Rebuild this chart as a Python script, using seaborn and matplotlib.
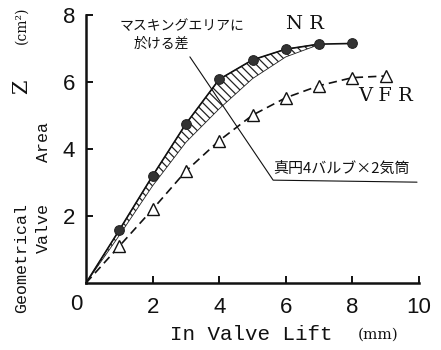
import matplotlib
matplotlib.use("Agg")
import matplotlib.pyplot as plt
import seaborn as sns
import numpy as np
import pandas as pd

# ---- data ----
lift_nr = [0, 1, 2, 3, 4, 5, 6, 7, 8]
area_nr = [0, 1.58, 3.2, 4.75, 6.08, 6.66, 6.98, 7.13, 7.15]
lift_vfr = [0, 1, 2, 3, 4, 5, 6, 7, 8, 9]
area_vfr = [0, 1.1, 2.2, 3.34, 4.25, 5.01, 5.53, 5.89, 6.13, 6.18]
lift_mask = [0, 1, 2, 3, 4, 5, 6, 6.9]
area_mask_low = [0, 1.42, 2.9, 4.2, 5.2, 6.1, 6.75, 7.08]
area_mask_high = [0, 1.58, 3.2, 4.75, 6.08, 6.66, 6.98, 7.12]
x_ticks = [2, 4, 6, 8, 10]
y_ticks = [2, 4, 6, 8]

sns.set_style("ticks")
plt.rcParams["font.family"] = ["DejaVu Sans"]
plt.rcParams["hatch.linewidth"] = 0.9

fig = plt.figure(figsize=(4.41, 3.5), dpi=100)
ax = fig.add_axes([86/441, 1-283/350, (419-86)/441, (283-15)/350])

# hatched masking difference
ax.fill_between(lift_mask, area_mask_low, area_mask_high, facecolor="none",
                edgecolor="#222222", hatch="\\\\\\\\", linewidth=0.6)

df_nr = pd.DataFrame({"lift": lift_nr, "area": area_nr})
df_vfr = pd.DataFrame({"lift": lift_vfr, "area": area_vfr})

sns.lineplot(data=df_nr, x="lift", y="area", ax=ax, color="#111111", lw=1.2,
             marker="o", markersize=7, markerfacecolor="#333333",
             markeredgecolor="#222222", markevery=list(range(1, len(lift_nr))),
             clip_on=False)
sns.lineplot(data=df_vfr, x="lift", y="area", ax=ax, color="#111111", lw=1.2,
             linestyle=(0, (5, 3)), marker="^", markersize=8,
             markerfacecolor="white", markeredgecolor="#111111",
             markeredgewidth=1.0, markevery=list(range(1, len(lift_vfr))),
             clip_on=False)

ax.set_xlim(0, 10)
ax.set_ylim(0, 8)
ax.set_xticks(x_ticks)
ax.set_yticks(y_ticks)
ax.set_xticklabels([str(v) for v in x_ticks], fontsize=16, family="Liberation Sans")
ax.set_yticklabels([str(v) for v in y_ticks], fontsize=16, family="Liberation Sans")
ax.tick_params(direction="in", length=5, width=1.4, colors="#111111", pad=8)
ax.tick_params(axis="x", pad=10)
for s in ["top", "right"]:
    ax.spines[s].set_visible(False)
for s in ["left", "bottom"]:
    ax.spines[s].set_linewidth(1.8)
    ax.spines[s].set_color("#111111")
ax.set_xlabel("")
ax.set_ylabel("")

# "0" origin label
fig.text(76/441, 1-305/350, "0", fontsize=16, family="Liberation Sans",
         ha="center", va="center", color="#111111")

# series labels
fig.text(305/441, 1-24/350, "N R", fontsize=14, family="DejaVu Serif",
         ha="center", va="center", color="#111111")
fig.text(386/441, 1-96/350, "V F R", fontsize=14, family="DejaVu Serif",
         ha="center", va="center", color="#111111")

# annotations
jp = ["Noto Sans CJK JP", "DejaVu Sans"]
fig.text(182/441, 1-26/350, "マスキングエリアに", fontsize=10, family=jp,
         ha="center", va="center", color="#111111")
fig.text(161/441, 1-44/350, "於ける差", fontsize=10, family=jp,
         ha="center", va="center", color="#111111")
fig.text(341/441, 1-169/350, "真円4バルブ×2気筒", fontsize=10.8, family=jp,
         ha="center", va="center", color="#111111")
leader_x = [3.12, 5.62, 9.94]
leader_y = [6.75, 3.07, 3.01]
ax.plot(leader_x, leader_y, color="#111111", lw=0.8, clip_on=False)

# axis titles
mono = "Liberation Mono"
fig.text(251/441, 1-335/350, "In Valve Lift", fontsize=15, family=mono,
         ha="center", va="center", color="#111111")
fig.text(378/441, 1-335/350, "(mm)", fontsize=11, family="DejaVu Serif",
         ha="center", va="center", color="#111111")
fig.text(22/441, 1-258/350, "Geometrical", fontsize=12, family=mono,
         rotation=90, ha="center", va="center", color="#111111")
fig.text(43/441, 1-228/350, "Valve", fontsize=12, family=mono,
         rotation=90, ha="center", va="center", color="#111111")
fig.text(43/441, 1-142/350, "Area", fontsize=12, family=mono,
         rotation=90, ha="center", va="center", color="#111111")
fig.text(22/441, 1-87/350, "Z", fontsize=15, family="DejaVu Serif",
         rotation=90, ha="center", va="center", color="#111111")
fig.text(22/441, 1-25/350, "(cm²)", fontsize=10, family="DejaVu Serif",
         rotation=90, ha="center", va="center", color="#111111")

fig.savefig("out.png", dpi=100)
